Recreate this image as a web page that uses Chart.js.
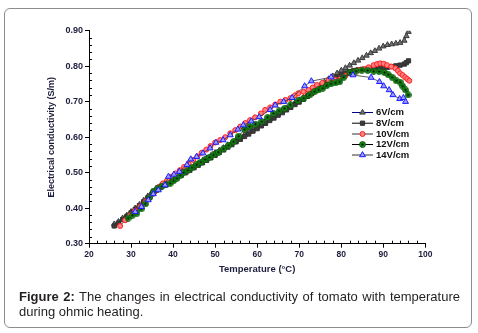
<!DOCTYPE html>
<html lang="en">
<head>
    <meta charset="UTF-8">
    <title>Electrical conductivity of tomato</title>
    <script src="https://cdn.jsdelivr.net/npm/chart.js"></script>
    <style>
        body { margin: 0; background: #fff; }
        #frame { position: absolute; left: 4px; top: 8px; width: 466px; height: 318px; border: 1px solid #8c8c8c; border-radius: 6px; }
        #chart { position: absolute; left: 0; top: 0; }
        #caption { position: absolute; left: 19px; top: 289px; width: 441px; font: 13px/15px "Liberation Sans", Arial, sans-serif; color: #231f20; text-align: justify; }
    </style>
</head>
<body>
    <div id="frame"></div>
    <canvas id="chart" width="478" height="290"></canvas>
    <div id="caption"><b>Figure 2:</b> The changes in electrical conductivity of tomato with temperature during ohmic heating.</div>

    <script>
        // values (temperature in °C, conductivity in S/m)
        const seriesNames = ['6V/cm', '8V/cm', '10V/cm', '12V/cm', '14V/cm'];

        const temp6V = [26, 27, 28, 29, 30, 31, 32, 33, 34, 35, 36, 37, 38, 39, 40, 41, 42, 43, 44, 45, 46, 47, 48, 49, 50,
            51, 52, 53, 54, 55, 56, 57, 58, 59, 60, 61, 62, 63, 64, 65, 66, 67, 68, 69, 70, 71, 72, 73, 74, 75,
            76, 77, 78, 79, 80, 81, 82, 83, 84, 85, 86, 87, 88, 89, 90, 91, 92, 93, 94, 95, 95.5, 96];
        const cond6V = [0.355, 0.362, 0.372, 0.380, 0.390, 0.400, 0.410, 0.422, 0.434, 0.446, 0.456, 0.463, 0.470, 0.477, 0.484,
            0.491, 0.498, 0.505, 0.512, 0.519, 0.526, 0.534, 0.541, 0.548, 0.556, 0.563, 0.570, 0.578, 0.585, 0.593,
            0.600, 0.607, 0.615, 0.622, 0.630, 0.637, 0.645, 0.652, 0.660, 0.667, 0.675, 0.682, 0.690, 0.697, 0.705,
            0.712, 0.720, 0.728, 0.737, 0.746, 0.755, 0.764, 0.772, 0.780, 0.788, 0.795, 0.802, 0.809, 0.816, 0.823,
            0.830, 0.837, 0.843, 0.850, 0.856, 0.860, 0.862, 0.864, 0.866, 0.872, 0.885, 0.897];

        const temp8V = temp6V;
        const cond8V = [0.350, 0.358, 0.368, 0.377, 0.387, 0.397, 0.407, 0.418, 0.429, 0.440, 0.450, 0.458, 0.465, 0.472, 0.479,
            0.486, 0.493, 0.500, 0.507, 0.514, 0.521, 0.528, 0.535, 0.542, 0.549, 0.557, 0.564, 0.572, 0.579, 0.587,
            0.594, 0.602, 0.609, 0.617, 0.624, 0.632, 0.639, 0.647, 0.654, 0.662, 0.669, 0.677, 0.684, 0.692, 0.699,
            0.707, 0.715, 0.723, 0.731, 0.740, 0.748, 0.756, 0.763, 0.770, 0.776, 0.781, 0.785, 0.788, 0.790, 0.791,
            0.792, 0.793, 0.794, 0.795, 0.796, 0.797, 0.799, 0.801, 0.803, 0.806, 0.810, 0.815];

        const temp10V = [27.4, 28.6, 29.8, 31.0, 32.2, 33.4, 34.5, 35.6, 36.6, 37.6, 38.6, 39.6, 40.6, 41.6, 42.6, 43.7, 44.8,
            45.8, 46.8, 47.9, 48.9, 50.0, 51.2, 52.4, 53.6, 54.8, 56.0, 57.2, 58.3, 59.5, 60.9, 61.9, 63.1, 64.3, 65.5,
            66.7, 67.9, 69.0, 69.8, 71.0, 72.2, 73.2, 74.2, 75.5, 77.0, 78.4, 79.8, 81.0, 82.1, 83.2, 84.3, 85.3, 86.5,
            87.7, 88.5, 89.3, 90.1, 90.9, 91.9, 92.9, 93.5, 94.0, 94.6, 95.2, 95.7, 96.2];
        const cond10V = [0.350, 0.366, 0.380, 0.393, 0.405, 0.418, 0.430, 0.446, 0.460, 0.470, 0.479, 0.489, 0.498, 0.507, 0.516,
            0.526, 0.536, 0.546, 0.556, 0.565, 0.575, 0.585, 0.592, 0.600, 0.611, 0.620, 0.630, 0.640, 0.648, 0.656,
            0.667, 0.677, 0.684, 0.692, 0.700, 0.705, 0.710, 0.718, 0.724, 0.728, 0.733, 0.740, 0.747, 0.753, 0.761,
            0.763, 0.766, 0.773, 0.780, 0.785, 0.789, 0.792, 0.797, 0.803, 0.806, 0.808, 0.807, 0.803, 0.799, 0.794,
            0.787, 0.780, 0.775, 0.769, 0.764, 0.759];

        const temp12V = [29.3, 30.3, 31.4, 32.4, 33.4, 34.4, 35.3, 36.3, 37.3, 38.3, 39.3, 40.1, 40.9, 41.7, 42.5, 43.5, 44.5,
            45.6, 46.6, 47.6, 48.6, 49.6, 50.8, 52.0, 53.2, 54.4, 55.6, 57.0, 58.2, 59.6, 61.1, 62.5, 63.9, 65.2, 66.5,
            67.9, 69.7, 71.1, 72.5, 73.6, 74.6, 75.6, 76.5, 77.5, 78.6, 79.6, 80.6, 82.1, 83.5, 84.9, 86.3, 87.7, 89.0,
            90.3, 91.2, 92.1, 93.1, 94.0, 94.6, 95.3, 95.9];
        const cond12V = [0.372, 0.380, 0.386, 0.398, 0.412, 0.430, 0.446, 0.455, 0.461, 0.466, 0.470, 0.477, 0.484, 0.492, 0.500,
            0.507, 0.514, 0.522, 0.530, 0.537, 0.543, 0.550, 0.558, 0.567, 0.577, 0.587, 0.603, 0.622, 0.630, 0.637,
            0.644, 0.656, 0.667, 0.674, 0.681, 0.691, 0.703, 0.710, 0.719, 0.728, 0.733, 0.738, 0.745, 0.750, 0.753,
            0.756, 0.769, 0.782, 0.786, 0.789, 0.788, 0.786, 0.785, 0.782, 0.776, 0.769, 0.759, 0.755, 0.744, 0.733,
            0.719];

        const temp14V = [31.0, 32.5, 34.1, 35.3, 36.5, 38.1, 38.9, 40.2, 41.5, 43.3, 44.2, 45.6, 47.1, 48.8, 50.2, 51.9, 53.6,
            55.4, 56.7, 58.6, 60.5, 63.1, 64.3, 66.3, 68.3, 71.3, 72.9, 77.6, 82.8, 87.1, 89.1, 90.1, 91.4, 92.3, 93.9,
            94.8, 95.3];
        const cond14V = [0.390, 0.404, 0.423, 0.440, 0.451, 0.465, 0.489, 0.495, 0.503, 0.522, 0.538, 0.545, 0.555, 0.569, 0.585,
            0.592, 0.606, 0.622, 0.634, 0.645, 0.657, 0.677, 0.690, 0.700, 0.711, 0.744, 0.758, 0.769, 0.775, 0.768,
            0.756, 0.744, 0.733, 0.719, 0.708, 0.711, 0.700];

        const xTicks = [20, 30, 40, 50, 60, 70, 80, 90, 100];
        const yTicks = [0.30, 0.40, 0.50, 0.60, 0.70, 0.80, 0.90];

        const FONT = '"Liberation Sans", Arial, sans-serif';
        const TEXT = '#1c1c3c';

        function pts(xs, ys) {
            return xs.map((x, i) => ({ x: x, y: ys[i] }));
        }

        // green marker with a black centre dot
        function dotMarker() {
            const c = document.createElement('canvas');
            c.width = 7; c.height = 7;
            const g = c.getContext('2d');
            g.beginPath();
            g.arc(3.5, 3.5, 3, 0, Math.PI * 2);
            g.fillStyle = '#168a16';
            g.fill();
            g.strokeStyle = '#0b4d0b';
            g.lineWidth = 0.8;
            g.stroke();
            g.beginPath();
            g.arc(3.5, 3.5, 1.1, 0, Math.PI * 2);
            g.fillStyle = '#000';
            g.fill();
            return c;
        }

        const datasets = [
            { label: seriesNames[0], data: pts(temp6V, cond6V), order: 5, borderColor: '#000080', legendLine: '#000080',
              pointStyle: 'triangle', pointRadius: 3.2, pointBorderColor: '#3c3c3c', pointBackgroundColor: '#707070' },
            { label: seriesNames[1], data: pts(temp8V, cond8V), order: 4, borderColor: '#222', legendLine: '#000',
              pointStyle: 'rect', pointRadius: 3, pointBorderColor: '#333', pointBackgroundColor: '#3a3a3a' },
            { label: seriesNames[2], data: pts(temp10V, cond10V), order: 3, borderColor: '#444', legendLine: '#333',
              pointStyle: 'circle', pointRadius: 2.5, pointBorderColor: '#ff2020', pointBackgroundColor: '#ff8080' },
            { label: seriesNames[3], data: pts(temp12V, cond12V), order: 2, borderColor: '#111', legendLine: '#000',
              pointStyle: dotMarker(), pointRadius: 3, pointBorderColor: '#0b4d0b', pointBackgroundColor: '#168a16' },
            { label: seriesNames[4], data: pts(temp14V, cond14V), order: 1, borderColor: '#333', legendLine: '#333',
              pointStyle: 'triangle', pointRadius: 3.4, pointBorderColor: '#1a1aff', pointBackgroundColor: '#9c9cff' }
        ];
        datasets.forEach(d => {
            d.borderWidth = 0.8;
            d.pointBorderWidth = 1;
            d.pointHoverRadius = d.pointRadius;
            d.showLine = true;
            d.fill = false;
        });

        // minor ticks, legend box
        const extras = {
            id: 'extras',
            afterDraw(chart) {
                const ctx = chart.ctx;
                const xs = chart.scales.x, ys = chart.scales.y;
                const area = chart.chartArea;
                ctx.save();
                ctx.strokeStyle = '#000';
                ctx.lineWidth = 1;
                ctx.beginPath();
                for (let v = 22; v < 100; v += 2) {
                    if (v % 10 === 0) continue;
                    const px = Math.round(xs.getPixelForValue(v)) + 0.5;
                    ctx.moveTo(px, area.bottom);
                    ctx.lineTo(px, area.bottom - 3);
                }
                for (let i = 16; i < 45; i++) {
                    if (i % 5 === 0) continue;
                    const py = Math.round(ys.getPixelForValue(i * 0.02)) + 0.5;
                    ctx.moveTo(area.left, py);
                    ctx.lineTo(area.left + 3, py);
                }
                ctx.stroke();

                // legend
                const rowY = [112, 122.7, 133.5, 144, 154.5];
                ctx.font = 'bold 9.5px ' + FONT;
                ctx.textBaseline = 'middle';
                chart.data.datasets.forEach((d, i) => {
                    const y = rowY[i];
                    ctx.strokeStyle = d.legendLine;
                    ctx.lineWidth = 1;
                    ctx.beginPath();
                    ctx.moveTo(352, y + 0.5);
                    ctx.lineTo(373, y + 0.5);
                    ctx.stroke();
                    ctx.fillStyle = d.pointBackgroundColor;
                    ctx.strokeStyle = d.pointBorderColor;
                    Chart.helpers.drawPoint(ctx, { pointStyle: d.pointStyle, radius: d.pointRadius, rotation: 0, borderWidth: 1 }, 362.5, y + 0.5);
                    ctx.fillStyle = '#111';
                    ctx.fillText(d.label, 376, y + 0.5);
                });
                ctx.restore();
            }
        };

        new Chart(document.getElementById('chart').getContext('2d'), {
            type: 'scatter',
            data: { datasets: datasets },
            options: {
                responsive: false,
                animation: false,
                layout: { padding: { left: 40, right: 52.7, top: 30.7, bottom: 15.3 } },
                plugins: { legend: { display: false }, tooltip: { enabled: false } },
                scales: {
                    x: {
                        type: 'linear', min: 20, max: 100,
                        afterBuildTicks: s => { s.ticks = xTicks.map(v => ({ value: v })); },
                        afterFit: s => { s.height = 31; },
                        ticks: { font: { family: FONT, size: 8.5, weight: 'bold' }, color: TEXT, padding: 2, maxRotation: 0 },
                        grid: { drawOnChartArea: false, tickLength: 4, color: '#000' },
                        border: { color: '#000', width: 1 },
                        title: { display: true, text: 'Temperature (°C)', color: TEXT, padding: 0,
                                 font: { family: FONT, size: 9.5, weight: 'bold' } }
                    },
                    y: {
                        type: 'linear', min: 0.3, max: 0.9,
                        afterBuildTicks: s => { s.ticks = yTicks.map(v => ({ value: v })); },
                        afterFit: s => { s.width = 49; },
                        ticks: { font: { family: FONT, size: 9, weight: 'bold' }, color: TEXT, padding: 2,
                                 callback: v => v.toFixed(2) },
                        grid: { drawOnChartArea: false, tickLength: 4, color: '#000' },
                        border: { color: '#000', width: 1 },
                        title: { display: true, text: 'Electrical conductivity (S/m)', color: TEXT, padding: { top: 6, bottom: 0 },
                                 font: { family: FONT, size: 9, weight: 'bold' } }
                    }
                }
            },
            plugins: [extras]
        });
    </script>
</body>
</html>
